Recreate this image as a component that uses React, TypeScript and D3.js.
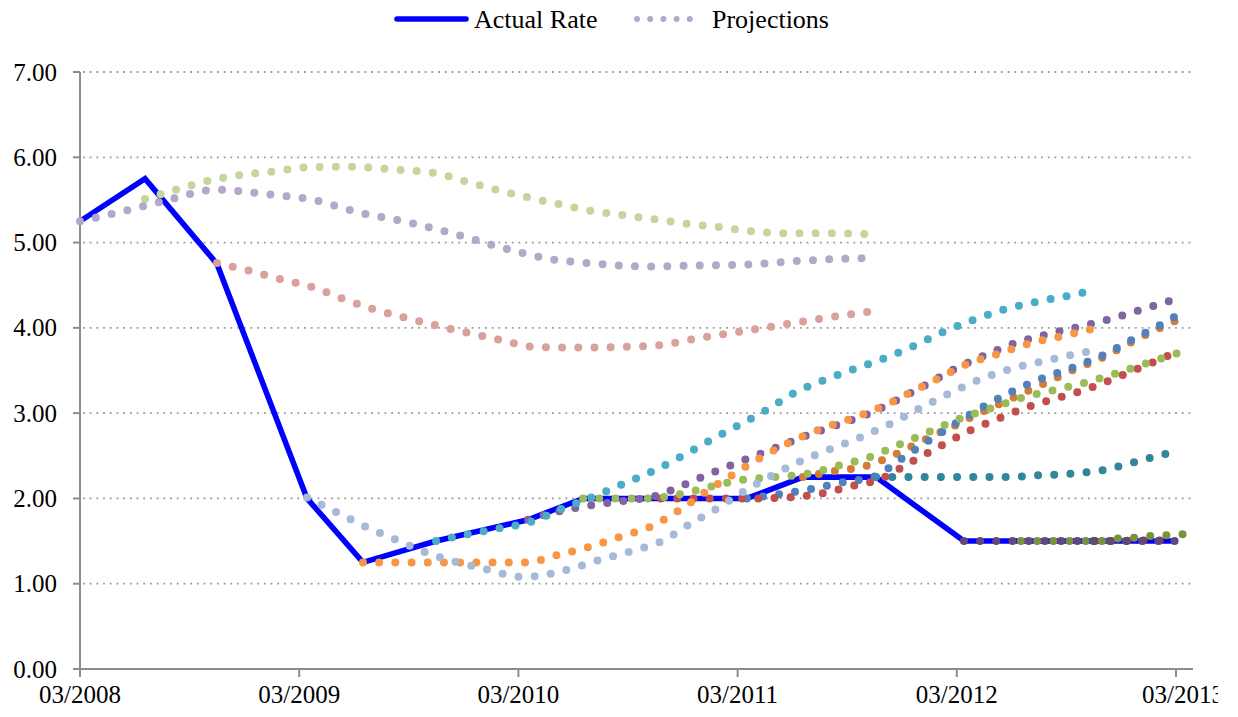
import React from "react";
import * as d3 from "d3";

// ---------- data (months since 03/2008, rate %) ----------
const actualMonths = [0, 3.56, 7.5, 12.43, 15.49, 19.49, 24.53, 27.54, 31.81, 36.51, 39.58, 43.58, 48.39, 51.51, 55.56, 60.11];
const actualRates = [5.25, 5.75, 4.75, 2.0, 1.25, 1.5, 1.75, 2.0, 2.0, 2.0, 2.25, 2.25, 1.5, 1.5, 1.5, 1.5];

const proj0803 = [[0, 5.25], [2.24, 5.36], [4.82, 5.5], [7.45, 5.62], [10.07, 5.57], [12.76, 5.5], [15.33, 5.35], [17.9, 5.24], [20.53, 5.1], [23.1, 4.94], [25.67, 4.81], [28.36, 4.75], [30.98, 4.72], [33.67, 4.73], [36.35, 4.74], [39.03, 4.78], [41.71, 4.81], [43.47, 4.82]];
const proj0806 = [[3.56, 5.51], [5.26, 5.62], [6.95, 5.72], [8.7, 5.79], [10.46, 5.83], [12.26, 5.88], [14.01, 5.89], [15.82, 5.88], [17.57, 5.85], [19.32, 5.82], [21.08, 5.72], [22.77, 5.62], [24.53, 5.53], [26.22, 5.45], [28.03, 5.37], [29.78, 5.32], [31.53, 5.27], [33.28, 5.22], [35.04, 5.18], [36.84, 5.13], [38.65, 5.11], [40.4, 5.11], [43.08, 5.1]];
const proj0810 = [[7.5, 4.76], [9.25, 4.67], [11.0, 4.57], [12.7, 4.48], [14.4, 4.34], [16.04, 4.22], [17.79, 4.12], [19.49, 4.03], [21.24, 3.94], [22.99, 3.86], [24.74, 3.78], [26.5, 3.77], [28.3, 3.77], [30.05, 3.78], [31.86, 3.8], [33.61, 3.87], [35.36, 3.93], [37.12, 3.99], [38.87, 4.05], [40.62, 4.11], [43.25, 4.19]];
const proj0903 = [[12.43, 2.01], [14.12, 1.83], [15.71, 1.66], [17.35, 1.51], [19.0, 1.36], [20.69, 1.25], [22.39, 1.16], [24.14, 1.08], [25.02, 1.09], [26.77, 1.17], [28.47, 1.28], [30.16, 1.38], [31.86, 1.5], [33.39, 1.7], [34.93, 1.89], [36.46, 2.1], [37.99, 2.28], [39.58, 2.45], [41.22, 2.59], [42.86, 2.73], [44.51, 2.89], [46.09, 3.07], [47.68, 3.24], [49.32, 3.4], [50.97, 3.52], [52.72, 3.61], [54.47, 3.69], [55.35, 3.73]];
const proj0906 = [[15.49, 1.25], [17.3, 1.25], [19.05, 1.25], [20.86, 1.25], [22.66, 1.25], [24.42, 1.25], [26.17, 1.34], [27.86, 1.43], [29.56, 1.55], [31.26, 1.67], [32.79, 1.86], [34.27, 2.08], [35.75, 2.28], [37.28, 2.48], [38.87, 2.66], [40.51, 2.81], [42.15, 2.93], [43.85, 3.07], [45.44, 3.24], [47.03, 3.41], [48.61, 3.58], [50.31, 3.7], [52.01, 3.82], [53.7, 3.9], [55.45, 3.99]];
const proj0910 = [[19.49, 1.5], [21.24, 1.58], [22.99, 1.65], [24.74, 1.73], [26.39, 1.88], [28.08, 2.02], [29.73, 2.17], [31.37, 2.32], [32.9, 2.49], [34.49, 2.68], [36.08, 2.86], [37.61, 3.04], [39.14, 3.24], [40.78, 3.39], [42.43, 3.52], [44.12, 3.65], [45.77, 3.8], [47.35, 3.96], [48.99, 4.1], [50.69, 4.22], [52.45, 4.31], [54.2, 4.38], [55.07, 4.42]];
const proj1003 = [[24.53, 1.75], [26.28, 1.85], [27.97, 1.92], [29.78, 1.97], [31.53, 2.03], [33.17, 2.17], [34.82, 2.32], [36.46, 2.46], [38.16, 2.6], [39.8, 2.74], [41.44, 2.86], [43.14, 2.99], [44.78, 3.16], [46.37, 3.34], [47.9, 3.52], [49.54, 3.68], [51.19, 3.82], [52.88, 3.92], [54.63, 4.01], [56.33, 4.1], [58.03, 4.21], [59.73, 4.32]];
const proj1006 = [[27.54, 2.0], [31.1, 2.0], [32.85, 2.05], [34.54, 2.14], [36.3, 2.22], [38.05, 2.25], [39.85, 2.29], [41.61, 2.39], [43.3, 2.49], [44.94, 2.64], [46.59, 2.79], [48.23, 2.94], [49.93, 3.06], [51.57, 3.18], [53.32, 3.27], [55.07, 3.36], [56.77, 3.47], [58.47, 3.59], [60.16, 3.71]];
const proj1010 = [[31.81, 2.0], [35.04, 2.0], [36.84, 2.0], [38.65, 2.01], [40.4, 2.05], [42.15, 2.14], [43.85, 2.23], [45.44, 2.42], [46.97, 2.6], [48.56, 2.78], [50.2, 2.93], [51.84, 3.07], [53.54, 3.18], [55.24, 3.29], [56.88, 3.43], [58.58, 3.58], [60.16, 3.73]];
const proj1103 = [[36.51, 2.0], [38.27, 2.05], [40.02, 2.11], [41.77, 2.19], [43.52, 2.26], [45.0, 2.47], [46.48, 2.68], [48.01, 2.89], [49.49, 3.08], [51.08, 3.26], [52.72, 3.41], [54.42, 3.54], [56.0, 3.68], [57.59, 3.86], [59.18, 4.04], [59.94, 4.13]];
const proj1106 = [[39.58, 2.25], [41.28, 2.32], [43.03, 2.38], [44.67, 2.52], [46.26, 2.69], [47.85, 2.85], [49.43, 3.02], [51.08, 3.18], [52.72, 3.34], [54.31, 3.5], [55.95, 3.65], [57.54, 3.83], [59.12, 4.0], [59.94, 4.08]];
const proj1110 = [[43.58, 2.25], [47.08, 2.25], [50.64, 2.25], [52.39, 2.27], [54.2, 2.29], [55.95, 2.33], [57.65, 2.42], [59.4, 2.52], [60.27, 2.56]];
const proj1203 = [[48.39, 1.5], [54.0, 1.5], [60.11, 1.5]];
const proj1206 = [[51.51, 1.5], [55.95, 1.5], [56.82, 1.53], [57.7, 1.54], [58.63, 1.56], [59.51, 1.57], [60.38, 1.58]];
const proj1210 = [[55.56, 1.5], [59.94, 1.51]];

const projections = [proj0803, proj0806, proj0810, proj0903, proj0906, proj0910, proj1003, proj1006, proj1010, proj1103, proj1106, proj1110, proj1203, proj1206, proj1210];
const projColors = ["#B3A8CA", "#C3D69B", "#D8A19D", "#A7B9D9", "#F79646", "#4BACC6", "#8064A2", "#9BBB59", "#C0504D", "#4F81BD", "#D27C37", "#31859C", "#604A7B", "#77933C", "#953735"];

const yTicks = [0, 1, 2, 3, 4, 5, 6, 7];
const xTickMonths = [0, 12, 24, 36, 48, 60];
const xTickLabels = ["03/2008", "03/2009", "03/2010", "03/2011", "03/2012", "03/2013"];
const X_END = 60.93;

const FONT = '"Liberation Serif","Times New Roman",serif';

export default function App() {
  const x = d3.scaleLinear().domain([0, X_END]).range([80, 1193]);
  const y = d3.scaleLinear().domain([0, 7]).range([669, 72]);

  const actual = actualMonths.map((m, i) => [m, actualRates[i]]);
  const actualLine = d3
    .line<number[]>()
    .x((d) => x(d[0]))
    .y((d) => y(d[1]));
  const projLine = d3
    .line<number[]>()
    .x((d) => x(d[0]))
    .y((d) => y(d[1]))
    .curve(d3.curveMonotoneX);

  const x0 = x(0);
  const x1 = x(X_END);
  const yBase = y(0);

  const order = projections.map((_, i) => i).reverse();

  return (
    <svg
      width={1238}
      height={717}
      style={{ position: "absolute", left: 0, top: 0, background: "#fff", display: "block" }}
      fontFamily={FONT}
    >
      <defs>
        <clipPath id="labelClip">
          <rect x={0} y={0} width={1218} height={717} />
        </clipPath>
      </defs>

      {/* gridlines */}
      {yTicks
        .filter((t) => t > 0)
        .map((t) => (
          <line
            key={"g" + t}
            x1={x0 + 3}
            x2={x1}
            y1={y(t)}
            y2={y(t)}
            stroke="#999"
            strokeWidth={1.8}
            strokeDasharray="1.8 4.9"
          />
        ))}

      {/* y axis */}
      <line x1={x0} x2={x0} y1={y(7)} y2={yBase} stroke="#8c8c8c" strokeWidth={2} />
      {yTicks.map((t) => (
        <g key={"yt" + t}>
          <line x1={x0 - 7} x2={x0} y1={y(t)} y2={y(t)} stroke="#8c8c8c" strokeWidth={2} />
          <text x={57} y={y(t)} textAnchor="end" dominantBaseline="central" fontSize={25} fill="#000">
            {t.toFixed(2)}
          </text>
        </g>
      ))}

      {/* x axis */}
      <line x1={x0} x2={x1} y1={yBase} y2={yBase} stroke="#8c8c8c" strokeWidth={2.2} />
      <g clipPath="url(#labelClip)">
        {xTickMonths.map((m, i) => (
          <g key={"xt" + m}>
            <line x1={x(m)} x2={x(m)} y1={yBase} y2={yBase + 8} stroke="#8c8c8c" strokeWidth={2} />
            <text
              x={x(m) + (i === xTickMonths.length - 1 ? 7 : 0)}
              y={703}
              textAnchor="middle"
              fontSize={25}
              fill="#000"
            >
              {xTickLabels[i]}
            </text>
          </g>
        ))}
      </g>

      {/* actual rate */}
      <path d={actualLine(actual) || ""} fill="none" stroke="#0000FF" strokeWidth={5.6} strokeLinejoin="miter" />

      {/* projections */}
      {order.map((i) => (
        <path
          key={"p" + i}
          d={projLine(projections[i]) || ""}
          fill="none"
          stroke={projColors[i]}
          strokeWidth={8}
          strokeLinecap="round"
          strokeDasharray="0 16.2"
        />
      ))}

      {/* legend */}
      <line x1={397} x2={466} y1={19} y2={19} stroke="#0000FF" strokeWidth={5.6} strokeLinecap="round" />
      <text x={474} y={28} fontSize={26} fill="#000">
        Actual Rate
      </text>
      <line
        x1={637}
        x2={690}
        y1={19}
        y2={19}
        stroke={projColors[0]}
        strokeWidth={6}
        strokeLinecap="round"
        strokeDasharray="0 13.2"
      />
      <text x={712} y={28} fontSize={26} fill="#000">
        Projections
      </text>
    </svg>
  );
}
